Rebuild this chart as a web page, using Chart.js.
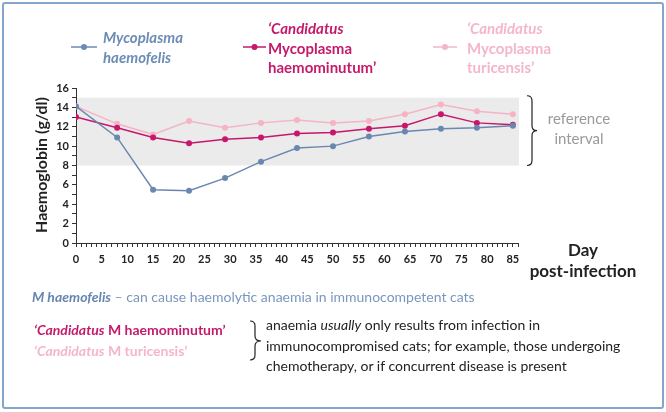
<!DOCTYPE html>
<html>
<head>
<meta charset="utf-8">
<script src="https://cdn.jsdelivr.net/npm/chart.js@4.4.0/dist/chart.umd.min.js"></script>
<style>
body { margin: 0; width: 666px; height: 412px; position: relative; overflow: hidden; background: #fff; font-family: Lato, "Open Sans", sans-serif; }
#frame { position: absolute; left: 2px; top: 2px; width: 658px; height: 403px; border: 2px solid #86a5cc; border-radius: 3px; }
#chart { position: absolute; left: 0; top: 0; }
.t { position: absolute; white-space: nowrap; }
.leg { font-size: 15px; font-weight: bold; line-height: 19.5px; }
.blue { color: #6d8cb5; }
.mag { color: #c41a6b; }
.pink { color: #f4b6c8; }
svg { position: absolute; left: 0; top: 0; overflow: visible; }
</style>
</head>
<body>
<div id="frame"></div>
<canvas id="chart" width="666" height="412"></canvas>

<svg width="666" height="412">
  <line x1="71" y1="47" x2="97" y2="47" stroke="#6d8cb5" stroke-width="1.5"/>
  <circle cx="84" cy="47" r="3" fill="#6d8cb5"/>
  <line x1="243" y1="47" x2="266" y2="47" stroke="#c41a6b" stroke-width="1.5"/>
  <circle cx="254.5" cy="47" r="3" fill="#c41a6b"/>
  <line x1="433" y1="47" x2="457" y2="47" stroke="#f4b6c8" stroke-width="1.5"/>
  <circle cx="445" cy="47" r="3" fill="#f4b6c8"/>
  <path d="M250 321 Q255 321 255 326 L255 336 Q255 341 261 341 Q255 341 255 346 L255 355 Q255 360 250 360" fill="none" stroke="#222" stroke-width="1.2"/>
</svg>

<div class="t leg blue" style="left:103px;top:28px;font-style:italic">Mycoplasma<br>haemofelis</div>
<div class="t leg mag" style="left:268px;top:19px"><i>‘Candidatus</i><br>Mycoplasma<br>haemominutum’</div>
<div class="t leg pink" style="left:467px;top:19px"><i>‘Candidatus</i><br>Mycoplasma<br>turicensis’</div>

<div class="t" style="left:40px;top:165px;transform:translate(-50%,-50%) rotate(-90deg);font-size:16px;font-weight:bold;color:#222">Haemoglobin (g/dl)</div>
<div class="t" style="left:579px;top:108px;transform:translateX(-50%);font-size:15px;line-height:20px;color:#9a9a9a;text-align:center">reference<br>interval</div>
<div class="t" style="left:583px;top:239px;transform:translateX(-50%);font-size:17px;line-height:21px;font-weight:bold;color:#222;text-align:center">Day<br>post-infection</div>

<div class="t" style="left:32px;top:288px;font-size:14px;color:#7a97bd"><b><i style="color:#6786b0">M haemofelis</i></b> – can cause haemolytic anaemia in immunocompetent cats</div>
<div class="t" style="left:34px;top:319px;font-size:14px;line-height:21px;font-weight:bold"><span class="mag"><i>‘Candidatus</i> M haemominutum’</span><br><span class="pink"><i>‘Candidatus</i> M turicensis’</span></div>
<div class="t" style="left:266px;top:315px;font-size:14px;line-height:20.5px;color:#222">anaemia <i>usually</i> only results from infection in<br>immunocompromised cats; for example, those undergoing<br>chemotherapy, or if concurrent disease is present</div>

<script>

// days post-infection when haemoglobin was measured
const days = [0, 8, 15, 22, 29, 36, 43, 50, 57, 64, 71, 78, 85];

// haemoglobin (g/dl)
const haemofelis = [14.1, 10.9, 5.5, 5.4, 6.7, 8.4, 9.8, 10.0, 11.0, 11.5, 11.8, 11.9, 12.1];
const haemominutum = [13.0, 11.9, 10.9, 10.3, 10.7, 10.9, 11.3, 11.4, 11.8, 12.1, 13.3, 12.4, 12.2];
const turicensis = [14.1, 12.3, 11.2, 12.6, 11.9, 12.4, 12.7, 12.4, 12.6, 13.3, 14.3, 13.6, 13.3];

// reference interval
const refLow = 8;
const refHigh = 15;

const xMax = 86;
const yMax = 16;

function pts(vals) {
    return days.map((d, i) => ({ x: d, y: vals[i] }));
}

function series(label, vals, color) {
    return {
        label: label,
        data: pts(vals),
        borderColor: color,
        backgroundColor: color,
        borderWidth: 1.5,
        pointRadius: 3,
        pointBorderWidth: 0,
        tension: 0
    };
}

// grey band + brace for the reference interval
const refBand = {
    id: "refBand",
    beforeDatasetsDraw(chart) {
        const { ctx, scales: { x, y } } = chart;
        const top = y.getPixelForValue(refHigh);
        const bot = y.getPixelForValue(refLow);
        ctx.save();
        ctx.fillStyle = "#ebebec";
        ctx.fillRect(x.getPixelForValue(0) + 1, top, x.getPixelForValue(xMax) - x.getPixelForValue(0), bot - top);
        ctx.restore();
    },
    afterDraw(chart) {
        const { ctx, scales: { x, y } } = chart;
        const top = y.getPixelForValue(refHigh + 0.2);
        const bot = y.getPixelForValue(refLow);
        const mid = (top + bot) / 2;
        const x0 = x.getPixelForValue(xMax) + 9;
        ctx.save();
        ctx.strokeStyle = "#222";
        ctx.lineWidth = 1.2;
        ctx.beginPath();
        ctx.moveTo(x0, top);
        ctx.quadraticCurveTo(x0 + 5, top, x0 + 5, top + 5);
        ctx.lineTo(x0 + 5, mid - 5);
        ctx.quadraticCurveTo(x0 + 5, mid, x0 + 10, mid);
        ctx.quadraticCurveTo(x0 + 5, mid, x0 + 5, mid + 5);
        ctx.lineTo(x0 + 5, bot - 5);
        ctx.quadraticCurveTo(x0 + 5, bot, x0, bot);
        ctx.stroke();
        ctx.restore();
    }
};

const ctx = document.getElementById("chart").getContext("2d");

const chart = new Chart(ctx, {
    type: "line",
    data: {
        datasets: [
            series("Mycoplasma haemofelis", haemofelis, "#6a88ae"),
            series("Candidatus Mycoplasma haemominutum", haemominutum, "#c8166c"),
            series("Candidatus Mycoplasma turicensis", turicensis, "#f5b4c4")
        ]
    },
    options: {
        responsive: false,
        animation: false,
        events: [],
        layout: { padding: { left: 36, right: 148, top: 88, bottom: 139 } },
        plugins: { legend: { display: false }, tooltip: { enabled: false } },
        scales: {
            x: {
                type: "linear",
                min: 0,
                max: xMax,
                afterFit: s => { s.height = 30; },
                ticks: {
                    stepSize: 1,
                    autoSkip: false,
                    maxRotation: 0,
                    padding: 6,
                    color: "#222",
                    font: { family: "Lato", size: 11, weight: "bold" },
                    callback: v => (v % 5 === 0 && v <= 85) ? v : ""
                },
                grid: { drawOnChartArea: false, drawTicks: true, tickLength: 4, color: "#333" },
                border: { color: "#333", width: 1 }
            },
            y: {
                min: 0,
                max: yMax,
                afterFit: s => { s.width = 40; },
                ticks: {
                    stepSize: 1,
                    autoSkip: false,
                    padding: 3,
                    color: "#222",
                    font: { family: "Lato", size: 11, weight: "bold" },
                    callback: v => v % 2 === 0 ? v : ""
                },
                grid: { drawOnChartArea: false, drawTicks: true, tickLength: 4, color: "#333" },
                border: { color: "#333", width: 1 }
            }
        }
    },
    plugins: [refBand]
});

</script>
</body>
</html>
